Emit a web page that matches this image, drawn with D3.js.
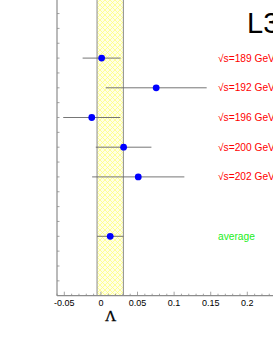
<!DOCTYPE html>
<html>
<head>
<meta charset="utf-8">
<script src="https://cdn.jsdelivr.net/npm/d3@7"></script>
<style>
  body { margin: 0; background: #fff; overflow: hidden; }
  svg { display: block; }
</style>
</head>
<body>
<svg width="273" height="353"></svg>
<script>
// measurements, one per energy point, plus the average
const labels = ['\u221As=189 GeV', '\u221As=192 GeV', '\u221As=196 GeV', '\u221As=200 GeV', '\u221As=202 GeV', 'average'];
const rows = [8, 7, 6, 5, 4, 2];
const values = [0.001, 0.0755, -0.0125, 0.031, 0.051, 0.0127];
const errors = [0.026, 0.069, 0.039, 0.038, 0.063, 0.018];
const xTicks = [-0.05, 0, 0.05, 0.1, 0.15, 0.2];

const svg = d3.select('svg');

const x = d3.scaleLinear().domain([-0.06, 0.3]).range([57, 320.5]);
const y = d3.scaleLinear().domain([0, 10]).range([295.7, -1.3]);

const defs = svg.append('defs');
const pat = defs.append('pattern')
  .attr('id', 'hatch')
  .attr('patternUnits', 'userSpaceOnUse')
  .attr('width', 5)
  .attr('height', 5);
pat.append('rect').attr('width', 5).attr('height', 5).attr('fill', '#ffffe6');
pat.append('path')
  .attr('d', 'M0,0L5,5M5,0L0,5M-1,4L1,6M4,-1L6,1M4,6L6,4M-1,1L1,-1')
  .attr('stroke', '#ffff80')
  .attr('stroke-width', 0.8);

// average band
const avg = values.length - 1;
svg.append('rect')
  .attr('x', x(values[avg] - errors[avg]))
  .attr('y', y(10))
  .attr('width', x(values[avg] + errors[avg]) - x(values[avg] - errors[avg]))
  .attr('height', y(0) - y(10))
  .attr('fill', 'url(#hatch)');
[values[avg] - errors[avg], values[avg] + errors[avg]].forEach((v) => {
  svg.append('line')
    .attr('x1', x(v)).attr('x2', x(v))
    .attr('y1', y(0)).attr('y2', y(10))
    .attr('stroke', '#8c8c8c')
    .attr('stroke-width', 1);
});

// frame: left and bottom
svg.append('line')
  .attr('x1', 57).attr('x2', 57).attr('y1', y(0)).attr('y2', y(10))
  .attr('stroke', '#8c8c8c').attr('stroke-width', 1.2);
svg.append('line')
  .attr('x1', 57).attr('x2', 330).attr('y1', y(0)).attr('y2', y(0))
  .attr('stroke', '#8c8c8c').attr('stroke-width', 1.2);

// y ticks every half unit
d3.range(0.5, 10, 0.5).forEach((t) => {
  svg.append('line')
    .attr('x1', 57).attr('x2', 59.5)
    .attr('y1', y(t)).attr('y2', y(t))
    .attr('stroke', '#8c8c8c').attr('stroke-width', 0.8);
});

// x ticks
d3.range(-0.06, 0.3001, 0.01).forEach((t) => {
  const major = Math.abs(Math.round(t * 100) % 5) === 0;
  svg.append('line')
    .attr('x1', x(t)).attr('x2', x(t))
    .attr('y1', y(0)).attr('y2', y(0) - (major ? 4 : 2))
    .attr('stroke', '#8c8c8c').attr('stroke-width', 0.8);
});

svg.append('g')
  .selectAll('text')
  .data(xTicks)
  .join('text')
  .attr('x', d => x(d))
  .attr('y', 305.5)
  .attr('text-anchor', 'middle')
  .attr('font-family', 'Liberation Sans, Arial, sans-serif')
  .attr('font-size', 9)
  .attr('fill', '#000')
  .text(d => d);

svg.append('text')
  .attr('x', 110.5)
  .attr('y', 320.5)
  .attr('text-anchor', 'middle')
  .attr('font-family', 'Liberation Serif, Times New Roman, serif')
  .attr('font-size', 15.5)
  .attr('stroke', '#000')
  .attr('stroke-width', 0.3)
  .attr('fill', '#000')
  .text('\u039B');

// error bars and points
const pts = svg.append('g');
values.forEach((v, i) => {
  pts.append('line')
    .attr('x1', x(v - errors[i])).attr('x2', x(v + errors[i]))
    .attr('y1', y(rows[i])).attr('y2', y(rows[i]))
    .attr('stroke', '#666').attr('stroke-width', 0.9);
  pts.append('circle')
    .attr('cx', x(v)).attr('cy', y(rows[i]))
    .attr('r', 3.4)
    .attr('fill', '#0000ff');
});

svg.append('g')
  .selectAll('text')
  .data(labels)
  .join('text')
  .attr('x', 218)
  .attr('y', (d, i) => y(rows[i]) + 3.5)
  .attr('font-family', 'Liberation Sans, Arial, sans-serif')
  .attr('font-size', 10.2)
  .attr('fill', (d, i) => (i === avg ? '#22ee22' : '#ff0000'))
  .text(d => d);

svg.append('text')
  .attr('x', 247)
  .attr('y', 32.5)
  .attr('font-family', 'Liberation Sans, Arial, sans-serif')
  .attr('font-size', 29)
  .attr('fill', '#000')
  .text('L3');
</script>
</body>
</html>
